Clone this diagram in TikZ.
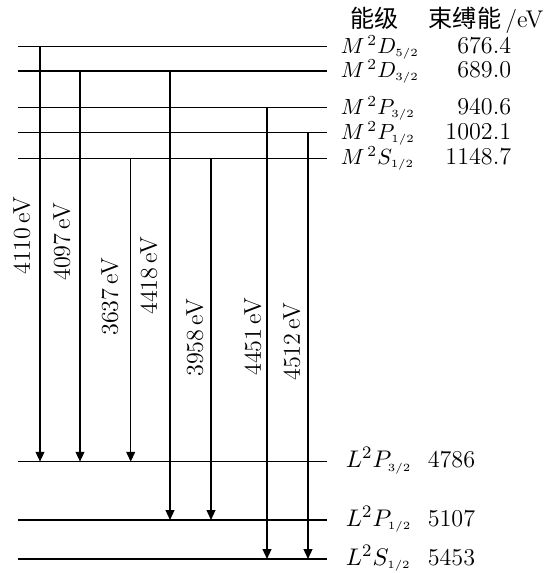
\documentclass[tikz,border=0pt]{standalone}
\usepackage{amsmath}
\usepackage{fontspec}
\newfontfamily\cjk{Noto Sans CJK SC}
\usetikzlibrary{arrows.meta}
\newcommand{\sub}[1]{_{\scriptscriptstyle #1}}

\begin{document}
\begin{tikzpicture}[x=0.016cm, y=-0.016cm, line width=0.7pt,
    font=\fontsize{11}{13}\selectfont,
    trans/.style={-{Triangle[length=4.5pt,width=4pt]}},
    elabel/.style={rotate=90, inner sep=0pt},
    lvlname/.style={anchor=base west, inner sep=0pt},
    lvlval/.style={inner sep=0pt}]
    \useasboundingbox (0,0) rectangle (543,573);

    % M shell levels
    \coordinate (D52) at (18,46.7);
    \coordinate (D32) at (18,71);
    \coordinate (P32) at (18,107.7);
    \coordinate (P12) at (18,132.7);
    \coordinate (S12) at (18,158.3);
    \draw (D52) -- +(309,0);
    \draw (D32) -- +(309,0);
    \draw (P32) -- +(309,0);
    \draw (P12) -- +(309,0);
    \draw (S12) -- +(309,0);

    % L shell levels
    \coordinate (LP32) at (18,461.7);
    \coordinate (LP12) at (18,520);
    \coordinate (LS12) at (18,559);
    \draw (LP32) -- +(309,0);
    \draw (LP12) -- +(309,0);
    \draw (LS12) -- +(309,0);

    % Transitions M -> L
    \draw[trans] (40,0 |- D52) -- (40,0 |- LP32);
    \draw[trans] (80,0 |- D32) -- (80,0 |- LP32);
    \draw[trans] (130.7,0 |- S12) -- (130.7,0 |- LP32);
    \draw[trans] (170,0 |- D32) -- (170,0 |- LP12);
    \draw[trans] (211,0 |- S12) -- (211,0 |- LP12);
    \draw[trans] (267,0 |- P32) -- (267,0 |- LS12);
    \draw[trans] (308,0 |- P12) -- (308,0 |- LS12);

    % Transition energies
    \node[elabel] (e4110) at (22,236) {4110\,eV};
    \node[elabel] (e4097) at (62,242) {4097\,eV};
    \node[elabel] (e3637) at (110,297) {3637\,eV};
    \node[elabel] (e4418) at (149,276) {4418\,eV};
    \node[elabel] (e3958) at (195,338) {3958\,eV};
    \node[elabel] (e4451) at (253,337) {4451\,eV};
    \node[elabel] (e4512) at (292,342) {4512\,eV};

    % Column heads
    \node[anchor=base, inner sep=0pt] (hlvl) at (375,27) {\cjk 能级};
    \node[anchor=base west, inner sep=0pt] (hbind) at (428,27) {{\cjk 束缚能}\,/eV};

    % Level names and binding energies
    \begin{scope}[font=\fontsize{10}{12}\selectfont]
    \node[lvlname] (nD52) at (340,53) {$M^{\,2}D\sub{5/2}$};
    \node[lvlname] (nD32) at (340,77) {$M^{\,2}D\sub{3/2}$};
    \node[lvlname] (nP32) at (340,114) {$M^{\,2}P\sub{3/2}$};
    \node[lvlname] (nP12) at (340,139) {$M^{\,2}P\sub{1/2}$};
    \node[lvlname] (nS12) at (340,164.5) {$M^{\,2}S\sub{1/2}$};
    \end{scope}
    \node[lvlval, anchor=base east] (vD52) at (512,53) {676.4};
    \node[lvlval, anchor=base east] (vD32) at (512,77) {689.0};
    \node[lvlval, anchor=base east] (vP32) at (512,114) {940.6};
    \node[lvlval, anchor=base east] (vP12) at (512,139) {1002.1};
    \node[lvlval, anchor=base east] (vS12) at (512,164.5) {1148.7};

    \node[lvlname] (nLP32) at (345,467.5) {$L^2P\sub{3/2}$};
    \node[lvlname] (nLP12) at (345,526) {$L^2P\sub{1/2}$};
    \node[lvlname] (nLS12) at (345,565) {$L^2S\sub{1/2}$};
    \node[lvlval, anchor=base west] (vLP32) at (427,467.5) {4786};
    \node[lvlval, anchor=base west] (vLP12) at (427,526) {5107};
    \node[lvlval, anchor=base west] (vLS12) at (427,565) {5453};
\end{tikzpicture}
\end{document}
